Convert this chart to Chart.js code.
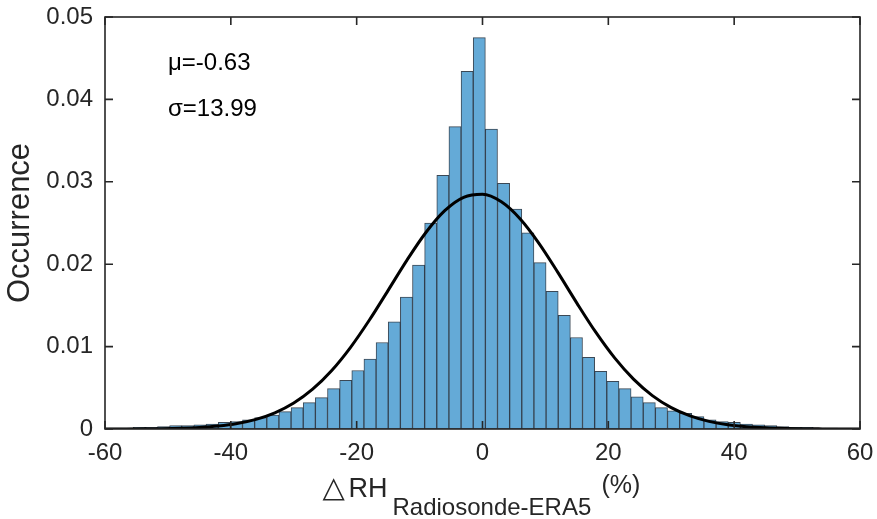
<!DOCTYPE html>
<html>
<head>
<meta charset="utf-8">
<script src="https://cdn.jsdelivr.net/npm/chart.js@4/dist/chart.umd.min.js"></script>
<style>
  html, body { margin: 0; padding: 0; background: #ffffff; }
  #wrap { width: 877px; height: 519px; position: relative; }
</style>
</head>
<body>
<div id="wrap"><canvas id="c" width="877" height="519"></canvas></div>
<script>
// ---- Data ----
const binCenters = [
  -58.41, -56.48, -54.55, -52.62, -50.69, -48.76, -46.83, -44.90, -42.97, -41.04,
  -39.11, -37.18, -35.25, -33.32, -31.39, -29.46, -27.53, -25.60, -23.67, -21.74,
  -19.81, -17.88, -15.95, -14.02, -12.09, -10.16, -8.23, -6.30, -4.37, -2.44,
  -0.51, 1.42, 3.35, 5.28, 7.21, 9.14, 11.07, 13.00, 14.93, 16.86,
  18.79, 20.72, 22.65, 24.58, 26.51, 28.44, 30.37, 32.30, 34.23, 36.16,
  38.09, 40.02, 41.95, 43.88, 45.81, 47.74, 49.67, 51.60, 53.53, 55.46,
  57.39, 59.32
];
const occurrence = [
  0.0001, 0.0001, 0.0002, 0.0002, 0.0003, 0.0004, 0.0004, 0.0005, 0.0006, 0.0008,
  0.0009, 0.0011, 0.0014, 0.0017, 0.0021, 0.0026, 0.0032, 0.0038, 0.0049, 0.0059,
  0.0071, 0.0085, 0.0105, 0.0130, 0.0160, 0.0199, 0.0250, 0.0308, 0.0367, 0.0434,
  0.0475, 0.0364, 0.0298, 0.0267, 0.0238, 0.0202, 0.0167, 0.0138, 0.0111, 0.0087,
  0.0070, 0.0058, 0.0049, 0.0039, 0.0032, 0.0026, 0.0022, 0.0019, 0.0015, 0.0011,
  0.0009, 0.0008, 0.0006, 0.0005, 0.0004, 0.0003, 0.0002, 0.0002, 0.0001, 0.0001,
  0.00005, 0.00003
];
// Fitted normal curve (mu=-0.63, sigma=13.99), sampled values
const curveX = [
  -60, -57, -54, -51, -48, -45, -42, -39, -36, -33, -30, -27, -24, -21, -18, -15,
  -12, -9, -6, -3, 0, 3, 6, 9, 12, 15, 18, 21, 24, 27, 30, 33, 36, 39, 42, 45,
  48, 51, 54, 57, 60
];
const curveY = [
  0.0000035, 0.0000085, 0.0000197, 0.0000437, 0.0000924, 0.0001866, 0.000360, 0.000664,
  0.001167, 0.001961, 0.003147, 0.004826, 0.007066, 0.009880, 0.013193, 0.016826,
  0.020496, 0.023844, 0.026492, 0.028111, 0.028488, 0.027573, 0.025488, 0.022502,
  0.018973, 0.015279, 0.011749, 0.008630, 0.006054, 0.004056, 0.002595, 0.001586,
  0.000926, 0.000516, 0.000275, 0.000140, 0.000068, 0.000031, 0.000014, 0.0000059,
  0.0000024
];
const xTicks = [-60, -40, -20, 0, 20, 40, 60];
const yTicks = [0, 0.01, 0.02, 0.03, 0.04, 0.05];
const yTickLabels = ['0', '0.01', '0.02', '0.03', '0.04', '0.05'];
const statLines = ['\u03BC=-0.63', '\u03C3=13.99'];
const yTitle = 'Occurrence';
const xTitleDelta = '\u25B3';
const xTitleMain = 'RH';
const xTitleSub = 'Radiosonde-ERA5';
const xTitleUnit = '(%)';

// ---- Styles ----
const FONT = '"Liberation Sans", Arial, Helvetica, "DejaVu Sans", sans-serif';
const AXIS_COLOR = '#262626';

const histData = binCenters.map((x, i) => ({ x: x, y: occurrence[i] }));
const curveData = curveX.map((x, i) => ({ x: x, y: curveY[i] }));

const boxPlugin = {
  id: 'matlabBox',
  afterDraw(chart) {
    const ctx = chart.ctx;
    const a = chart.chartArea;
    const xs = chart.scales.x, ys = chart.scales.y;
    ctx.save();
    ctx.strokeStyle = AXIS_COLOR;
    ctx.lineWidth = 1.6;
    ctx.strokeRect(a.left, a.top, a.right - a.left, a.bottom - a.top);
    const tl = 8;
    ctx.beginPath();
    xTicks.forEach(v => {
      const p = xs.getPixelForValue(v);
      ctx.moveTo(p, a.bottom); ctx.lineTo(p, a.bottom - tl);
      ctx.moveTo(p, a.top); ctx.lineTo(p, a.top + tl);
    });
    yTicks.forEach(v => {
      const p = ys.getPixelForValue(v);
      ctx.moveTo(a.left, p); ctx.lineTo(a.left + tl, p);
      ctx.moveTo(a.right, p); ctx.lineTo(a.right - tl, p);
    });
    ctx.stroke();

    // statistics annotation
    ctx.fillStyle = '#000000';
    ctx.font = '24px ' + FONT;
    ctx.textAlign = 'left';
    ctx.textBaseline = 'alphabetic';
    ctx.fillText(statLines[0], a.left + 63, a.top + 53);
    ctx.fillText(statLines[1], a.left + 63, a.top + 99);

    // x axis title with subscript
    ctx.fillStyle = AXIS_COLOR;
    const cx = (a.left + a.right) / 2;
    const base = a.bottom + 68;
    ctx.font = '29px "DejaVu Sans", ' + FONT;
    ctx.fillText(xTitleDelta, cx - 160, base);
    ctx.font = '27px ' + FONT;
    ctx.fillText(xTitleMain, cx - 134, base);
    ctx.font = '24px ' + FONT;
    ctx.fillText(xTitleSub, cx - 90, base + 18);
    ctx.font = '25px ' + FONT;
    ctx.fillText(xTitleUnit, cx + 119, base - 4);
    ctx.restore();
  }
};

new Chart(document.getElementById('c'), {
  type: 'bar',
  data: {
    datasets: [
      {
        type: 'line',
        data: curveData,
        borderColor: '#000000',
        borderWidth: 3,
        pointRadius: 0,
        fill: false,
        cubicInterpolationMode: 'monotone',
        order: 0
      },
      {
        type: 'bar',
        data: histData,
        backgroundColor: 'rgb(100,170,215)',
        borderColor: 'rgba(25,40,55,0.85)',
        borderWidth: 1,
        borderSkipped: false,
        barPercentage: 1.0,
        categoryPercentage: 1.0,
        order: 1
      }
    ]
  },
  options: {
    responsive: false,
    animation: false,
    devicePixelRatio: 1,
    layout: { padding: { top: 17, right: 17, left: 0, bottom: 0 } },
    plugins: { legend: { display: false }, tooltip: { enabled: false } },
    scales: {
      x: {
        type: 'linear',
        min: -60, max: 60,
        offset: false,
        grid: { display: false, drawTicks: false },
        border: { display: false },
        afterBuildTicks: s => { s.ticks = xTicks.map(v => ({ value: v })); },
        afterFit: s => { s.height = 90; s.paddingLeft = 0; s.paddingRight = 0; s.paddingTop = 0; s.paddingBottom = 0; },
        ticks: {
          color: AXIS_COLOR,
          font: { family: FONT, size: 24 },
          padding: 10,
          maxRotation: 0,
          autoSkip: false,
          callback: v => String(v)
        }
      },
      y: {
        min: 0, max: 0.05,
        grid: { display: false, drawTicks: false },
        border: { display: false },
        afterBuildTicks: s => { s.ticks = yTicks.map(v => ({ value: v })); },
        afterFit: s => { s.width = 105; s.paddingLeft = 0; s.paddingRight = 0; s.paddingTop = 0; s.paddingBottom = 0; },
        ticks: {
          color: AXIS_COLOR,
          font: { family: FONT, size: 24 },
          padding: 12,
          autoSkip: false,
          callback: (v) => { const i = yTicks.indexOf(v); return i >= 0 ? yTickLabels[i] : ''; }
        },
        title: {
          display: true,
          text: yTitle,
          color: AXIS_COLOR,
          font: { family: FONT, size: 31, lineHeight: 1 },
          padding: { top: 5, bottom: 0 }
        }
      }
    }
  },
  plugins: [boxPlugin]
});
</script>
</body>
</html>
